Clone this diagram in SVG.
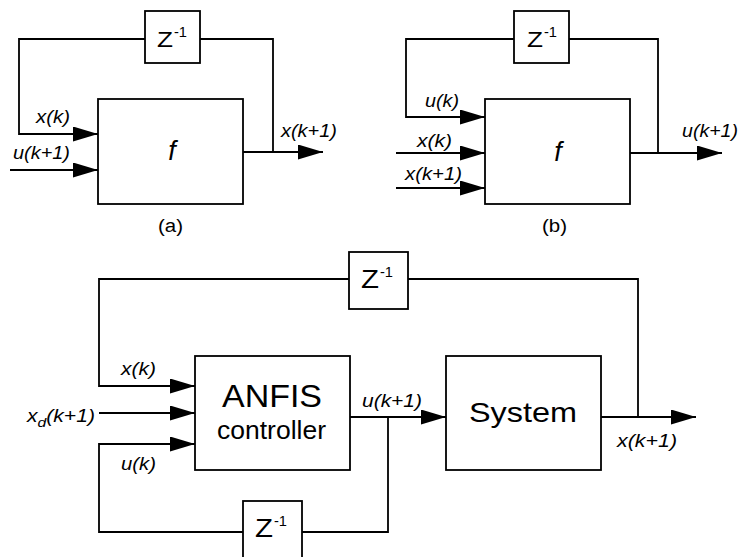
<svg xmlns="http://www.w3.org/2000/svg" width="740" height="557" viewBox="0 0 740 557">
<defs>
<marker id="arr" markerUnits="userSpaceOnUse" markerWidth="26" markerHeight="16" refX="25" refY="7.5" orient="auto">
<path d="M0,0 L25,7.5 L0,15 Z" fill="#000"/>
</marker>
<style>
.box{fill:#fff;stroke:#000;stroke-width:1.8}
.ln{fill:none;stroke:#000;stroke-width:1.8}
.ar{marker-end:url(#arr)}
.lbl{font-family:"Liberation Sans",Arial,sans-serif;font-style:italic;font-size:17.5px;fill:#000}
.t{font-family:"Liberation Sans",Arial,sans-serif;fill:#000}
</style>
</defs>
<rect width="740" height="557" fill="#fff"/>
<g id="connectors">
<polyline class="ln ar" points="145,39 19,39 19,134 98,134"/>
<polyline class="ln" points="200,39 273,39 273,152"/>
<polyline class="ln ar" points="243,152 323,152"/>
<polyline class="ln ar" points="10,170 98,170"/>
<polyline class="ln ar" points="514,39 406,39 406,117 485,117"/>
<polyline class="ln" points="569,39 658,39 658,153"/>
<polyline class="ln ar" points="630,153 722,153"/>
<polyline class="ln ar" points="396,153 485,153"/>
<polyline class="ln ar" points="396,188 485,188"/>
<polyline class="ln ar" points="349,279 99,279 99,386 195,386"/>
<polyline class="ln" points="408,279 638,279 638,417"/>
<polyline class="ln ar" points="99,413 195,413"/>
<polyline class="ln" points="302,532 388,532 388,417"/>
<polyline class="ln ar" points="243,532 99,532 99,444 195,444"/>
<polyline class="ln ar" points="350,417 446,417"/>
<polyline class="ln ar" points="601,417 696,417"/>
</g>
<g id="a-delay">
<rect class="box" x="145" y="11" width="55" height="52"/>
<text class="t" x="157" y="47" font-size="22" textLength="16" lengthAdjust="spacingAndGlyphs">Z</text>
<text class="t" x="174" y="37" font-size="14" textLength="13" lengthAdjust="spacingAndGlyphs">-1</text>
</g>
<g id="a-f">
<rect class="box" x="98" y="99" width="145" height="105"/>
<text class="t" x="172" y="160" font-size="27" font-style="italic" text-anchor="middle">f</text>
</g>
<g id="a-labels">
<text class="lbl" x="36" y="123" textLength="34" lengthAdjust="spacingAndGlyphs">x(k)</text>
<text class="lbl" x="13" y="159" textLength="57" lengthAdjust="spacingAndGlyphs">u(k+1)</text>
<text class="lbl" x="281" y="137" textLength="56" lengthAdjust="spacingAndGlyphs">x(k+1)</text>
<text class="t" x="158" y="232" font-size="18" textLength="25" lengthAdjust="spacingAndGlyphs">(a)</text>
</g>
<g id="b-delay">
<rect class="box" x="514" y="11" width="55" height="52"/>
<text class="t" x="527" y="47" font-size="22" textLength="16" lengthAdjust="spacingAndGlyphs">Z</text>
<text class="t" x="544" y="37" font-size="14" textLength="13" lengthAdjust="spacingAndGlyphs">-1</text>
</g>
<g id="b-f">
<rect class="box" x="485" y="99" width="145" height="105"/>
<text class="t" x="558" y="161" font-size="27" font-style="italic" text-anchor="middle">f</text>
</g>
<g id="b-labels">
<text class="lbl" x="425" y="107" textLength="34" lengthAdjust="spacingAndGlyphs">u(k)</text>
<text class="lbl" x="417" y="147" textLength="35" lengthAdjust="spacingAndGlyphs">x(k)</text>
<text class="lbl" x="405" y="180" textLength="57" lengthAdjust="spacingAndGlyphs">x(k+1)</text>
<text class="lbl" x="682" y="137" textLength="56" lengthAdjust="spacingAndGlyphs">u(k+1)</text>
<text class="t" x="542" y="232" font-size="18" textLength="25" lengthAdjust="spacingAndGlyphs">(b)</text>
</g>
<g id="c-delay-top">
<rect class="box" x="349" y="252" width="59" height="57"/>
<text class="t" x="361" y="288" font-size="25" textLength="18" lengthAdjust="spacingAndGlyphs">Z</text>
<text class="t" x="380" y="277" font-size="15" textLength="13" lengthAdjust="spacingAndGlyphs">-1</text>
</g>
<g id="c-anfis">
<rect class="box" x="195" y="356" width="155" height="114"/>
<text class="t" x="222" y="407" font-size="31" textLength="100" lengthAdjust="spacingAndGlyphs">ANFIS</text>
<text class="t" x="217" y="439" font-size="25" textLength="109" lengthAdjust="spacingAndGlyphs">controller</text>
</g>
<g id="c-system">
<rect class="box" x="446" y="356" width="155" height="114"/>
<text class="t" x="469" y="422" font-size="28" textLength="108" lengthAdjust="spacingAndGlyphs">System</text>
</g>
<g id="c-delay-bottom">
<rect class="box" x="243" y="501" width="59" height="62"/>
<text class="t" x="255" y="537" font-size="25" textLength="18" lengthAdjust="spacingAndGlyphs">Z</text>
<text class="t" x="274" y="526" font-size="15" textLength="13" lengthAdjust="spacingAndGlyphs">-1</text>
</g>
<g id="c-labels">
<text class="lbl" x="121" y="375" textLength="35" lengthAdjust="spacingAndGlyphs">x(k)</text>
<text class="lbl" x="121" y="470" textLength="35" lengthAdjust="spacingAndGlyphs">u(k)</text>
<text class="lbl" x="27" y="422" textLength="68" lengthAdjust="spacingAndGlyphs">x<tspan font-size="13" dy="5">d</tspan><tspan dy="-5">(k+1)</tspan></text>
<text class="lbl" x="362" y="407" textLength="60" lengthAdjust="spacingAndGlyphs">u(k+1)</text>
<text class="lbl" x="617" y="447" textLength="60" lengthAdjust="spacingAndGlyphs">x(k+1)</text>
</g>
</svg>
